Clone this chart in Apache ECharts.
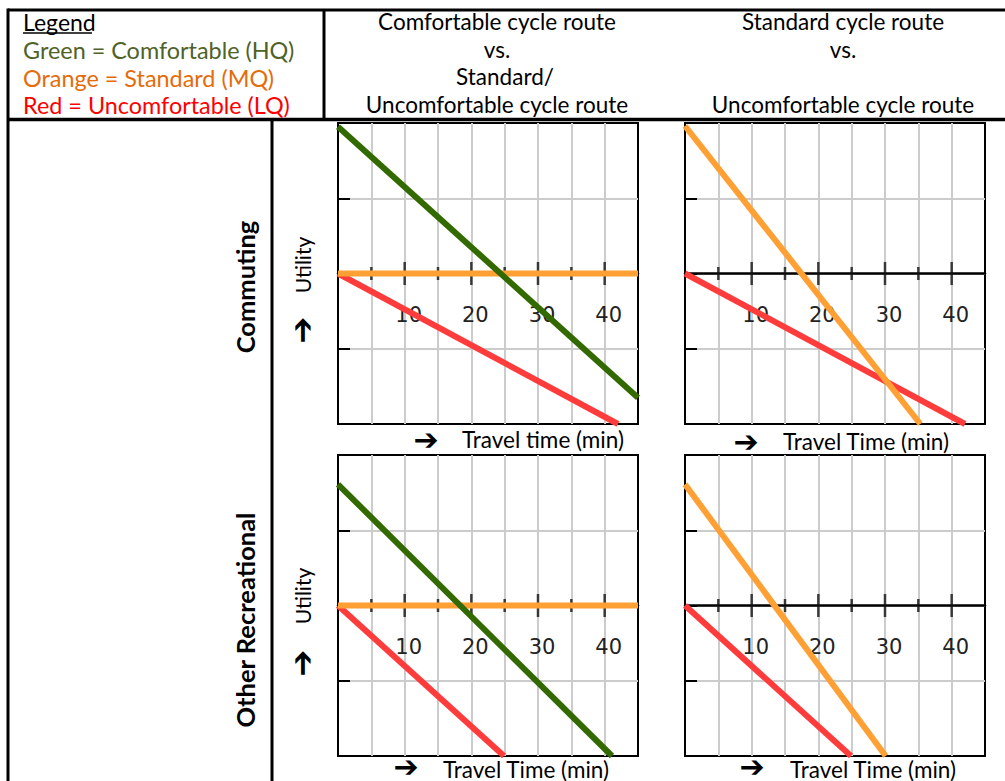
<!DOCTYPE html>
<html><head><meta charset="utf-8">
<script src="https://cdn.jsdelivr.net/npm/echarts@6/dist/echarts.min.js"></script>
<style>html,body{margin:0;padding:0;background:#fff}#c{width:1005px;height:781px}</style>
</head><body><div id="c"></div>
<script>
// ---- axes ----
const xMin = 0, xMax = 45, xStep = 5;
const xTickLabels = [10, 20, 30, 40];
const majorTicks = [10, 20, 30, 40];
const minorTicks = [5, 15, 25, 35];
const yMin = -2, yMax = 2, yStep = 1;

// ---- Commuting: comfortable vs standard/uncomfortable ----
const commA_green = [[0, 1.95], [45, -1.65]];
const commA_orange = [[0, 0], [45, 0]];
const commA_red = [[0, 0], [42, -2]];
// ---- Commuting: standard vs uncomfortable ----
const commB_orange = [[0, 1.96], [35.3, -2]];
const commB_red = [[0, 0], [42, -2]];
// ---- Other recreational: comfortable vs standard/uncomfortable ----
const recA_green = [[0, 1.61], [41.1, -2]];
const recA_orange = [[0, 0], [45, 0]];
const recA_red = [[0, 0], [24.9, -2]];
// ---- Other recreational: standard vs uncomfortable ----
const recB_orange = [[0, 1.61], [30.1, -2]];
const recB_red = [[0, 0], [24.9, -2]];

const legendLines = ['Green = Comfortable (HQ)', 'Orange = Standard (MQ)', 'Red = Uncomfortable (LQ)'];
const colHeadA = ['Comfortable cycle route', 'vs.', 'Standard/', 'Uncomfortable cycle route'];
const colHeadB = ['Standard cycle route', 'vs.', '', 'Uncomfortable cycle route'];
const rowHeads = ['Commuting', 'Other Recreational'];
const xCaptions = ['Travel time (min)', 'Travel Time (min)', 'Travel Time (min)', 'Travel Time (min)'];

const C_GREEN = '#336a00', C_ORANGE = '#ffa035', C_RED = '#ff3c3c';
const T_GREEN = '#4f6228', T_ORANGE = '#e46c0a', T_RED = '#ff0000';

const panels = [
  { box: [338, 123], lines: [[commA_red, C_RED, 'Uncomfortable (LQ)'], [commA_orange, C_ORANGE, 'Standard (MQ)'], [commA_green, C_GREEN, 'Comfortable (HQ)']] },
  { box: [685, 123], lines: [[commB_red, C_RED, 'Uncomfortable (LQ)'], [commB_orange, C_ORANGE, 'Standard (MQ)']] },
  { box: [338, 455], lines: [[recA_red, C_RED, 'Uncomfortable (LQ)'], [recA_orange, C_ORANGE, 'Standard (MQ)'], [recA_green, C_GREEN, 'Comfortable (HQ)']] },
  { box: [685, 455], lines: [[recB_red, C_RED, 'Uncomfortable (LQ)'], [recB_orange, C_ORANGE, 'Standard (MQ)']] }
];
const PW = 300, PH = 301;

const grid = [], xAxis = [], yAxis = [], series = [];
panels.forEach((p, i) => {
  grid.push({ left: p.box[0], top: p.box[1], width: PW, height: PH, show: true,
    borderColor: '#000', borderWidth: 2, backgroundColor: '#fff', outerBoundsMode: 'none', containLabel: false });
  xAxis.push({ type: 'value', gridIndex: i, min: xMin, max: xMax, interval: xStep,
    axisLine: { show: true, onZero: true, lineStyle: { color: '#000', width: 2.5 } },
    axisTick: { show: false },
    axisLabel: { show: true, margin: -(PH / 2 - 31), fontFamily: 'DejaVu Sans', fontSize: 21, color: '#222', padding: [0, 0, 0, 8],
      formatter: v => xTickLabels.indexOf(v) >= 0 ? String(v) : '' },
    splitLine: { show: true, showMinLine: false, showMaxLine: false, lineStyle: { color: '#cccccc', width: 2 } } });
  yAxis.push({ type: 'value', gridIndex: i, min: yMin, max: yMax, interval: yStep,
    axisLine: { show: true, lineStyle: { color: '#000', width: 2 } },
    axisTick: { show: true, inside: true, length: 12, lineStyle: { color: '#000', width: 2 } },
    axisLabel: { show: false },
    splitLine: { show: true, showMinLine: false, showMaxLine: false, lineStyle: { color: '#cccccc', width: 2 } } });
  series.push({ type: 'scatter', xAxisIndex: i, yAxisIndex: i, silent: true, z: 2,
    symbol: 'rect', symbolSize: [2.5, 23], itemStyle: { color: '#111' },
    data: majorTicks.map(t => [t, 0]) });
  series.push({ type: 'scatter', xAxisIndex: i, yAxisIndex: i, silent: true, z: 2,
    symbol: 'rect', symbolSize: [2.5, 13], itemStyle: { color: '#111' },
    data: minorTicks.map(t => [t, 0]) });
  p.lines.forEach(l => {
    series.push({ type: 'line', name: l[2], xAxisIndex: i, yAxisIndex: i, silent: true, z: 3,
      showSymbol: false, symbol: 'none', lineStyle: { color: l[1], width: 6 }, data: l[0] });
  });
});

const FONT = 'Lato, "Open Sans", sans-serif';
const g = [];
function txt(x, y, text, font, fill, align, rot, lh) {
  const st = { text: text, font: font, fill: fill || '#000', align: align || 'center', verticalAlign: 'middle',
      textAlign: align || 'center', textVerticalAlign: 'middle' };
  if (lh) st.lineHeight = lh;
  g.push({ type: 'text', x: x, y: y, rotation: rot || 0, silent: true, z: 10, style: st });
}
function ln(x1, y1, x2, y2, w) {
  g.push({ type: 'line', silent: true, z: 10, shape: { x1: x1, y1: y1, x2: x2, y2: y2 },
    style: { stroke: '#000', lineWidth: w || 2.5 } });
}
// table rules
ln(8, 10, 1005, 10, 3);
ln(8, 119.5, 1005, 119.5, 3.5);
ln(8, 8.5, 8, 781, 3);
ln(324, 10, 324, 119.5, 3);
ln(272, 119.5, 272, 781, 3);

// legend
txt(23, 22, 'Legend', '23px ' + FONT, '#000', 'left');
ln(23, 33, 92, 33, 1.5);
const legCols = [T_GREEN, T_ORANGE, T_RED];
legendLines.forEach((s, k) => txt(23, 50 + k * 27.5, s, '23.4px ' + FONT, legCols[k], 'left'));
// column headers
const headY = [21, 49, 76, 104];
colHeadA.forEach((s, k) => s && txt(k === 2 ? 505 : 497, headY[k], s, '22.5px ' + FONT));
colHeadB.forEach((s, k) => s && txt(843, headY[k], s, '22.5px ' + FONT));
// row headers
txt(245, 287, rowHeads[0], 'bold 25.5px ' + FONT, '#000', 'center', Math.PI / 2);
txt(245, 620, rowHeads[1], 'bold 25.5px ' + FONT, '#000', 'center', Math.PI / 2);
// y captions
[[265, 330], [596, 663]].forEach(c => {
  txt(302, c[0], 'Utility', '21px ' + FONT, '#000', 'center', Math.PI / 2);
  txt(302, c[1], '\u2794', 'bold 32px "DejaVu Sans"', '#000', 'center', Math.PI / 2, 20);
});
// x captions
const capPos = [[426, 462, 439, 439], [746, 783, 441, 441], [406, 443, 769, 766], [752, 790, 769, 766]];
capPos.forEach((c, k) => {
  txt(c[0], c[3], '\u2794', 'bold 30px "DejaVu Sans"', '#000', 'center', 0, 20);
  txt(c[1], c[2], xCaptions[k], '22.5px ' + FONT, '#000', 'left', 0, 22);
});

const chart = echarts.init(document.getElementById('c'), null, { renderer: 'svg' });
chart.setOption({ animation: false, backgroundColor: '#fff', grid, xAxis, yAxis, series, graphic: g });
</script></body></html>
